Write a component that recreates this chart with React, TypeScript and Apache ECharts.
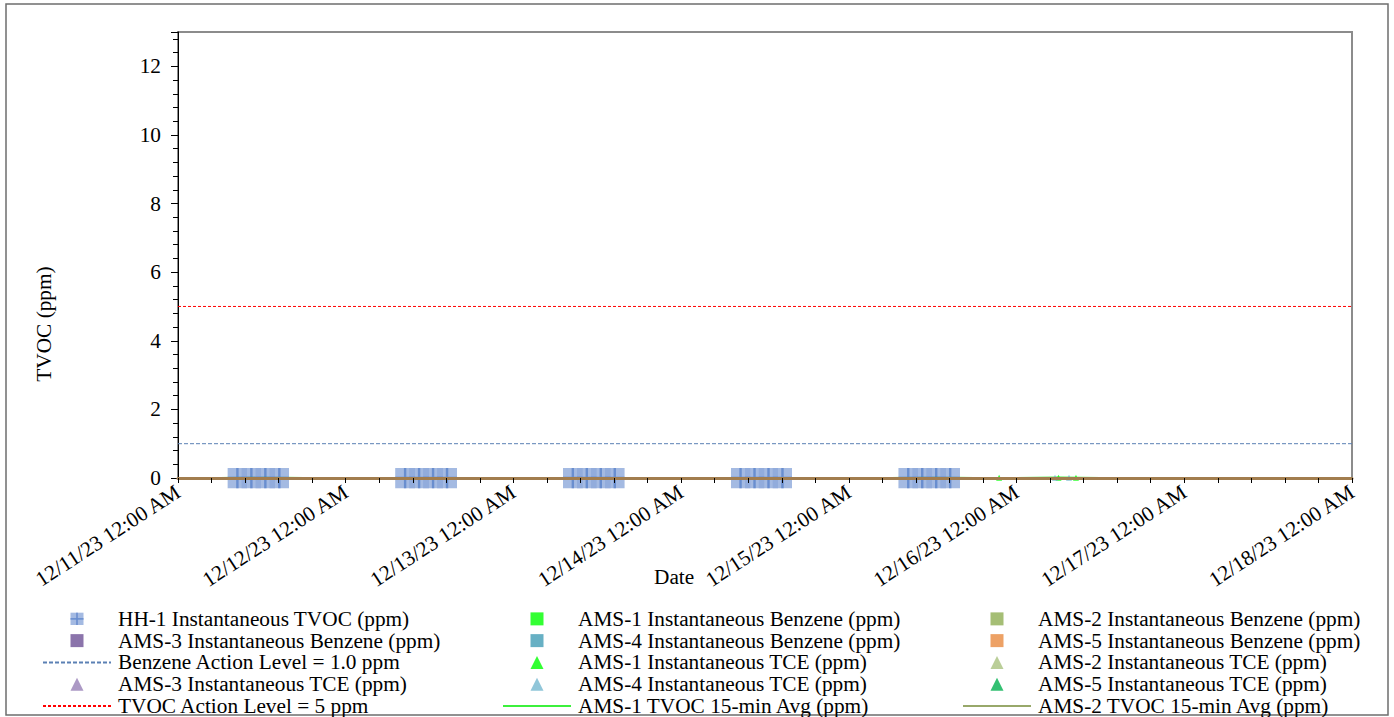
import React, { useEffect, useRef } from "react";
import * as echarts from "echarts";

// ---------------- data ----------------
const xStart = "2023-12-11 00:00";
const xEnd = "2023-12-18 00:00";
const yMin = 0;
const yMax = 13;
const yInterval = 2;

const benzeneActionLevel = 1.0;
const tvocActionLevel = 5;

const hh1Times = [
  "2023-12-11 08:30", "2023-12-11 10:30", "2023-12-11 12:30", "2023-12-11 14:30",
  "2023-12-12 08:30", "2023-12-12 10:30", "2023-12-12 12:30", "2023-12-12 14:30",
  "2023-12-13 08:30", "2023-12-13 10:30", "2023-12-13 12:30", "2023-12-13 14:30",
  "2023-12-14 08:30", "2023-12-14 10:30", "2023-12-14 12:30", "2023-12-14 14:30",
  "2023-12-15 08:30", "2023-12-15 10:30", "2023-12-15 12:30", "2023-12-15 14:30",
];
const hh1Values = [0, 0, 0, 0, 0, 0, 0, 0, 0, 0, 0, 0, 0, 0, 0, 0, 0, 0, 0, 0];

const avgTimes = [
  "2023-12-11 00:00", "2023-12-11 06:00", "2023-12-11 12:00", "2023-12-11 18:00",
  "2023-12-12 00:00", "2023-12-12 06:00", "2023-12-12 12:00", "2023-12-12 18:00",
  "2023-12-13 00:00", "2023-12-13 06:00", "2023-12-13 12:00", "2023-12-13 18:00",
  "2023-12-14 00:00", "2023-12-14 06:00", "2023-12-14 12:00", "2023-12-14 18:00",
  "2023-12-15 00:00", "2023-12-15 06:00", "2023-12-15 12:00", "2023-12-15 18:00",
  "2023-12-16 00:00", "2023-12-16 06:00", "2023-12-16 12:00", "2023-12-16 18:00",
  "2023-12-17 00:00", "2023-12-17 06:00", "2023-12-17 12:00", "2023-12-17 18:00",
  "2023-12-18 00:00",
];
const ams1TvocAvg = [
  0.0, 0.01, 0.02, 0.01, 0.0, 0.0, 0.01, 0.0, 0.0, 0.0, 0.01, 0.0,
  0.0, 0.0, 0.01, 0.0, 0.0, 0.01, 0.02, 0.01, 0.01, 0.02, 0.01, 0.0,
  0.0, 0.0, 0.0, 0.0, 0.0,
];
const ams2TvocAvg = [
  0.0, 0.0, 0.01, 0.0, 0.0, 0.0, 0.01, 0.0, 0.0, 0.0, 0.0, 0.0,
  0.0, 0.0, 0.01, 0.0, 0.0, 0.0, 0.01, 0.0, 0.0, 0.01, 0.01, 0.0,
  0.0, 0.0, 0.0, 0.0, 0.0,
];

const ams1TceTimes = ["2023-12-15 21:30", "2023-12-16 06:00", "2023-12-16 08:30"];
const ams1TceValues = [0.01, 0.01, 0.01];
const ams4TceTimes = ["2023-12-16 05:30", "2023-12-16 07:30"];
const ams4TceValues = [0.01, 0.01];

const ams1BenzTimes: string[] = [];
const ams1BenzValues: number[] = [];
const ams2BenzTimes: string[] = [];
const ams2BenzValues: number[] = [];
const ams3BenzTimes: string[] = [];
const ams3BenzValues: number[] = [];
const ams4BenzTimes: string[] = [];
const ams4BenzValues: number[] = [];
const ams5BenzTimes: string[] = [];
const ams5BenzValues: number[] = [];
const ams2TceTimes: string[] = [];
const ams2TceValues: number[] = [];
const ams3TceTimes: string[] = [];
const ams3TceValues: number[] = [];
const ams5TceTimes: string[] = [];
const ams5TceValues: number[] = [];

const N = {
  hh1: "HH-1 Instantaneous TVOC (ppm)",
  b1: "AMS-1 Instantaneous Benzene (ppm)",
  b2: "AMS-2 Instantaneous Benzene (ppm)",
  b3: "AMS-3 Instantaneous Benzene (ppm)",
  b4: "AMS-4 Instantaneous Benzene (ppm)",
  b5: "AMS-5 Instantaneous Benzene (ppm)",
  bal: "Benzene Action Level = 1.0 ppm",
  t1: "AMS-1 Instantaneous TCE (ppm)",
  t2: "AMS-2 Instantaneous TCE (ppm)",
  t3: "AMS-3 Instantaneous TCE (ppm)",
  t4: "AMS-4 Instantaneous TCE (ppm)",
  t5: "AMS-5 Instantaneous TCE (ppm)",
  tal: "TVOC Action Level = 5 ppm",
  a1: "AMS-1 TVOC 15-min Avg (ppm)",
  a2: "AMS-2 TVOC 15-min Avg (ppm)",
};

const legendCol1 = [N.hh1, N.b3, N.bal, N.t3, N.tal];
const legendCol2 = [N.b1, N.b4, N.t1, N.t4, N.a1];
const legendCol3 = [N.b2, N.b5, N.t2, N.t5, N.a2];
const lineNames = [N.bal, N.tal, N.a1, N.a2];

// ---------------- helpers ----------------
function t(s: string): number {
  const [d, hm] = s.split(" ");
  const [Y, M, D] = d.split("-").map(Number);
  const [h, m] = (hm || "00:00").split(":").map(Number);
  return Date.UTC(Y, M - 1, D, h, m);
}
function pts(times: string[], vals: number[]) {
  return times.map((s, i) => [t(s), vals[i]]);
}
function fmt(v: number): string {
  const d = new Date(v);
  const mm = d.getUTCMonth() + 1;
  const dd = d.getUTCDate();
  const yy = String(d.getUTCFullYear()).slice(2);
  const h = d.getUTCHours();
  const h12 = h % 12 === 0 ? 12 : h % 12;
  const mi = String(d.getUTCMinutes()).padStart(2, "0");
  return `${mm}/${dd}/${yy} ${h12}:${mi} ${h < 12 ? "AM" : "PM"}`;
}

const HH1_SVG =
  '<svg xmlns="http://www.w3.org/2000/svg" width="20" height="20" viewBox="0 0 20 20">' +
  '<rect x="0" y="0" width="20" height="20" fill="#8EA9DB"/>' +
  '<rect x="8.8" y="0" width="2.4" height="20" fill="#4472C4"/>' +
  '<rect x="0" y="8.8" width="20" height="2.4" fill="#4472C4"/>' +
  "</svg>";
const HH1_ICON = "image://data:image/svg+xml;charset=utf-8," + encodeURIComponent(HH1_SVG);
const SQUARE = "path://M0,0 L10,0 L10,10 L0,10 Z";
const TRIANGLE = "path://M5,0 L10,10 L0,10 Z";

const FONT = "Liberation Serif";
const FS = 21.3;

export default function App() {
  const ref = useRef<HTMLDivElement>(null);
  useEffect(() => {
    if (!ref.current) return;
    const chart = echarts.init(ref.current, undefined, { renderer: "svg" });
    const x0 = t(xStart);
    const x1 = t(xEnd);

    const scatter = (name: string, data: any[], symbol: string, size: number, color: string) => ({
      name,
      type: "scatter",
      data,
      symbol,
      symbolSize: size,
      itemStyle: { color },
      z: 2,
    });

    const legendItems = (names: string[]) =>
      names.map((n) => (lineNames.includes(n) ? { name: n, itemStyle: { opacity: 0 } } : { name: n }));

    const legendCommon = {
      orient: "vertical",
      top: 608,
      height: 130,
      padding: 0,
      itemWidth: 68,
      itemHeight: 13,
      itemGap: 0,
      symbolKeepAspect: true,
      textStyle: { fontFamily: FONT, fontSize: FS, color: "#000", lineHeight: 21.75, padding: [0, 0, 0, 2] },
      selectedMode: false,
    };

    const option: any = {
      animation: false,
      backgroundColor: "#fff",
      grid: {
        left: 178,
        right: 42,
        top: 32,
        bottom: 239,
        show: true,
        borderColor: "#8c8c8c",
        borderWidth: 2,
        backgroundColor: "transparent",
      },
      xAxis: {
        type: "value",
        min: x0,
        max: x1,
        interval: 86400000,
        z: 5,
        axisLine: { show: true, onZero: false, lineStyle: { color: "#A27D4E", width: 3 } },
        axisTick: { show: true, length: 5, lineStyle: { color: "#000", width: 1 } },
        minorTick: { show: true, splitNumber: 5, length: 5, lineStyle: { color: "#000", width: 1 } },
        splitLine: { show: false },
        minorSplitLine: { show: false },
        axisLabel: {
          rotate: 33,
          margin: 12,
          fontFamily: FONT,
          fontSize: FS,
          color: "#000",
          formatter: (v: number) => fmt(v),
        },
      },
      yAxis: {
        type: "value",
        min: yMin,
        max: yMax,
        interval: yInterval,
        axisLine: { show: true, lineStyle: { color: "#000", width: 1 } },
        axisTick: { show: true, length: 7, lineStyle: { color: "#000" } },
        minorTick: { show: true, splitNumber: 5, length: 5, lineStyle: { color: "#000" } },
        splitLine: { show: false },
        axisLabel: {
          margin: 17,
          fontFamily: FONT,
          fontSize: FS,
          color: "#000",
          formatter: (v: number) => (v > 12 ? "" : String(v)),
        },
      },
      legend: [
        { ...legendCommon, left: 42, data: legendItems(legendCol1) },
        { ...legendCommon, left: 502, data: legendItems(legendCol2) },
        { ...legendCommon, left: 962, data: legendItems(legendCol3) },
      ],
      graphic: [
        {
          type: "rect",
          shape: { x: 6, y: 4, width: 1382, height: 711 },
          style: { fill: "none", stroke: "#6e6e6e", lineWidth: 1.5 },
          silent: true,
          z: -1,
        },
        {
          type: "text",
          left: 654,
          top: 566,
          style: { text: "Date", fontFamily: FONT, fontSize: FS, fill: "#000" },
        },
        {
          type: "text",
          x: 44,
          y: 324,
          rotation: Math.PI / 2,
          style: {
            text: "TVOC (ppm)",
            fontFamily: FONT,
            fontSize: FS,
            fill: "#000",
            align: "center",
            verticalAlign: "middle",
          },
        },
      ],
      series: [
        {
          name: N.hh1,
          type: "scatter",
          data: pts(hh1Times, hh1Values),
          symbol: HH1_ICON,
          symbolSize: [20, 21],
          z: 2,
        },
        scatter(N.b1, pts(ams1BenzTimes, ams1BenzValues), SQUARE, 10, "#00FF00"),
        scatter(N.b2, pts(ams2BenzTimes, ams2BenzValues), SQUARE, 10, "#8FAE53"),
        scatter(N.b3, pts(ams3BenzTimes, ams3BenzValues), SQUARE, 10, "#6E5196"),
        scatter(N.b4, pts(ams4BenzTimes, ams4BenzValues), SQUARE, 10, "#419CB5"),
        scatter(N.b5, pts(ams5BenzTimes, ams5BenzValues), SQUARE, 10, "#E8893F"),
        {
          name: N.bal,
          type: "line",
          data: [[x0, benzeneActionLevel], [x1, benzeneActionLevel]],
          symbol: "none",
          itemStyle: { color: "#5B80B4" },
          lineStyle: { color: "#5B80B4", width: 1, type: [4, 2] },
          z: 1,
        },
        scatter(N.t1, pts(ams1TceTimes, ams1TceValues), TRIANGLE, 6, "#00FF00"),
        scatter(N.t2, pts(ams2TceTimes, ams2TceValues), TRIANGLE, 10, "#A9C27E"),
        scatter(N.t3, pts(ams3TceTimes, ams3TceValues), TRIANGLE, 10, "#977FB7"),
        scatter(N.t4, pts(ams4TceTimes, ams4TceValues), TRIANGLE, 6, "#74B8CF"),
        scatter(N.t5, pts(ams5TceTimes, ams5TceValues), TRIANGLE, 8, "#00B04F"),
        {
          name: N.tal,
          type: "line",
          data: [[x0, tvocActionLevel], [x1, tvocActionLevel]],
          symbol: "none",
          itemStyle: { color: "#FF0000" },
          lineStyle: { color: "#FF0000", width: 1, type: [3, 2] },
          z: 1,
        },
        {
          name: N.a1,
          type: "line",
          data: pts(avgTimes, ams1TvocAvg),
          symbol: "none",
          itemStyle: { color: "#3CF03C" },
          lineStyle: { color: "#3CF03C", width: 1.5 },
          z: 1,
        },
        {
          name: N.a2,
          type: "line",
          data: pts(avgTimes, ams2TvocAvg),
          symbol: "none",
          itemStyle: { color: "#98A86A" },
          lineStyle: { color: "#98A86A", width: 1.5 },
          z: 1,
        },
      ],
    };
    chart.setOption(option);
    return () => chart.dispose();
  }, []);

  return (
    <div style={{ position: "fixed", left: 0, top: 0, width: 1394, height: 717, background: "#fff" }}>
      <div ref={ref} style={{ width: 1394, height: 717 }} />
    </div>
  );
}
